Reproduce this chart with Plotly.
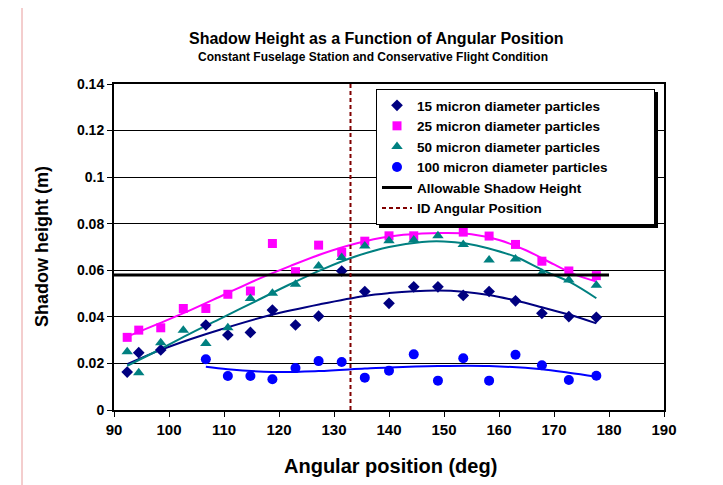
import plotly.graph_objects as go

# ---------------- data ----------------
angles = [92.4, 94.5, 98.5, 102.6, 106.7, 110.7, 114.8, 118.8, 123.0, 127.2, 131.4,
          135.6, 140.0, 144.5, 148.9, 153.5, 158.2, 163.0, 167.8, 172.7, 177.7]

p15_x = [92.4, 94.5, 98.5, 106.7, 110.7, 114.8, 118.8, 123.0, 127.2, 131.4,
         135.6, 140.0, 144.5, 148.9, 153.5, 158.2, 163.0, 167.8, 172.7, 177.7]
p15_y = [0.0163, 0.0246, 0.0258, 0.0365, 0.0322, 0.0333, 0.0429, 0.0365, 0.0403, 0.0597,
         0.0509, 0.0458, 0.0529, 0.0529, 0.0492, 0.0509, 0.0469, 0.0415, 0.0401, 0.0398]

p25_y = [0.0312, 0.0343, 0.0353, 0.0436, 0.0436, 0.0497, 0.0511, 0.0715, 0.0594, 0.0708, 0.0677,
         0.0725, 0.0748, 0.0748, 0.0804, 0.0764, 0.0747, 0.0711, 0.0639, 0.0597, 0.0577]

p50_y = [0.0250, 0.0160, 0.0289, 0.0343, 0.0286, 0.0353, 0.0479, 0.0501, 0.0540, 0.0618, 0.0655,
         0.0704, 0.0727, 0.0730, 0.0748, 0.0711, 0.0644, 0.0648, 0.0587, 0.0558, 0.0536]

p100_x = [106.7, 110.7, 114.8, 118.8, 123.0, 127.2, 131.4, 135.6, 140.0, 144.5, 148.9,
          153.5, 158.2, 163.0, 167.8, 172.7, 177.7]
p100_y = [0.0218, 0.0146, 0.0146, 0.0132, 0.0180, 0.0210, 0.0206, 0.0139, 0.0169, 0.0239, 0.0126,
          0.0222, 0.0126, 0.0237, 0.0192, 0.0129, 0.0147]

# trendlines
t15_x = [92.4, 98.5, 104.0, 109.4, 118.5, 127.6, 135.6, 140.0, 144.5, 148.9, 153.5, 158.2, 163.0, 167.8, 172.7, 177.7]
t15_y = [0.0197, 0.0258, 0.0305, 0.0346, 0.0408, 0.0455, 0.0490, 0.0502, 0.0510, 0.0513, 0.0508, 0.0494, 0.0470, 0.0441, 0.0410, 0.0372]

t25_x = [92.4, 98.0, 104.0, 110.0, 116.0, 122.0, 128.0, 134.0, 140.0, 146.0, 150.0, 155.0, 160.0, 165.0, 170.0, 174.0, 177.7]
t25_y = [0.0315, 0.0370, 0.0430, 0.0495, 0.0560, 0.0618, 0.0672, 0.0715, 0.0745, 0.0758, 0.0760, 0.0755, 0.0730, 0.0685, 0.0625, 0.0580, 0.0552]

t50_x = [92.4, 98.5, 104.0, 110.0, 116.0, 122.0, 128.0, 134.0, 140.0, 146.0, 150.0, 154.0, 158.0, 163.0, 168.0, 173.0, 177.7]
t50_y = [0.0190, 0.0262, 0.0330, 0.0400, 0.0470, 0.0540, 0.0605, 0.0660, 0.0700, 0.0722, 0.0724, 0.0715, 0.0695, 0.0658, 0.0600, 0.0548, 0.0480]

t100_x = [106.7, 110.7, 118.8, 127.2, 135.6, 140.0, 148.9, 158.2, 167.8, 172.7, 177.7]
t100_y = [0.0186, 0.0175, 0.0163, 0.0167, 0.0178, 0.0183, 0.0189, 0.0189, 0.0175, 0.0160, 0.0143]

allow_x = [90, 180]
allow_y = [0.058, 0.058]
id_x = [133, 133]
id_y = [0, 0.14]

series_names = ["15 micron diameter particles", "25 micron diameter particles",
                "50 micron diameter particles", "100 micron diameter particles",
                "Allowable Shadow Height", "ID Angular Position"]

NAVY, MAG, TEAL, BLUE, DRED = "#000080", "#FF00FF", "#008080", "#0000FF", "#800000"
FONT = "Liberation Sans, Arial, sans-serif"

fig = go.Figure()

for tx, ty, c in [(t15_x, t15_y, NAVY), (t25_x, t25_y, MAG), (t50_x, t50_y, TEAL), (t100_x, t100_y, BLUE)]:
    fig.add_trace(go.Scatter(x=tx, y=ty, mode="lines", line=dict(color=c, width=2, shape="spline"),
                             showlegend=False, hoverinfo="skip"))

fig.add_trace(go.Scatter(x=p15_x, y=p15_y, mode="markers", name=series_names[0],
                         marker=dict(symbol="diamond", size=9, color=NAVY)))
fig.add_trace(go.Scatter(x=angles, y=p25_y, mode="markers", name=series_names[1],
                         marker=dict(symbol="square", size=9, color=MAG)))
fig.add_trace(go.Scatter(x=angles, y=p50_y, mode="markers", name=series_names[2],
                         marker=dict(symbol="triangle-up", size=10, color=TEAL)))
fig.add_trace(go.Scatter(x=p100_x, y=p100_y, mode="markers", name=series_names[3],
                         marker=dict(symbol="circle", size=10, color=BLUE)))
fig.add_trace(go.Scatter(x=allow_x, y=allow_y, mode="lines", name=series_names[4],
                         line=dict(color="black", width=3)))
fig.add_trace(go.Scatter(x=id_x, y=id_y, mode="lines", name=series_names[5],
                         line=dict(color=DRED, width=2, dash="4px,3px")))

OFF = 8          # page offset of the plot div
W, H = 723 - OFF, 485 - OFF
L, T = 114 - OFF, 84 - OFF
R = W - (664 - OFF)
B = H - (410 - OFF)
PW, PH = W - L - R, H - T - B

def px_x(p):
    return (p - OFF - L) / PW

def px_y(p):
    return (H - B - (p - OFF)) / PH

fig.update_layout(
    width=W, height=H,
    margin=dict(l=L, r=R, t=T, b=B, pad=0),
    paper_bgcolor="white", plot_bgcolor="white",
    font=dict(family=FONT, color="black"),
    showlegend=True,
    legend=dict(x=px_x(376), y=px_y(89), xanchor="left", yanchor="top",
                orientation="h",
                bgcolor="white", bordercolor="black", borderwidth=1,
                font=dict(family=FONT, size=13.5, weight="bold", color="black"),
                tracegroupgap=0, itemwidth=30, entrywidth=232, entrywidthmode="pixels"),
    xaxis=dict(range=[90, 190], dtick=10, tick0=90, showgrid=False, zeroline=False,
               showline=True, linecolor="black", linewidth=2, mirror=True,
               ticks="outside", ticklen=5, tickwidth=1, tickcolor="black",
               tickfont=dict(family=FONT, size=15, weight="bold")),
    yaxis=dict(range=[0, 0.14], dtick=0.02, tick0=0, showgrid=True, gridcolor="black", gridwidth=1,
               zeroline=False, showline=True, linecolor="black", linewidth=2, mirror=True,
               ticks="outside", ticklen=5, tickwidth=1, tickcolor="black",
               tickfont=dict(family=FONT, size=14, weight="bold")),
    annotations=[
        dict(text="Shadow Height as a Function of Angular Position", x=px_x(376), y=px_y(39),
             xref="paper", yref="paper", showarrow=False, xanchor="center", yanchor="middle",
             font=dict(family=FONT, size=16, weight="bold")),
        dict(text="Constant Fuselage Station and Conservative Flight Condition", x=px_x(373), y=px_y(57),
             xref="paper", yref="paper", showarrow=False, xanchor="center", yanchor="middle",
             font=dict(family=FONT, size=12, weight="bold")),
        dict(text="Angular position (deg)", x=px_x(390), y=px_y(466),
             xref="paper", yref="paper", showarrow=False, xanchor="center", yanchor="middle",
             font=dict(family=FONT, size=20, weight="bold")),
        dict(text="Shadow height (m)", x=px_x(42), y=px_y(247), textangle=-90,
             xref="paper", yref="paper", showarrow=False, xanchor="center", yanchor="middle",
             font=dict(family=FONT, size=18, weight="bold")),
    ],
    shapes=[
        dict(type="rect", xref="paper", yref="paper", x0=px_x(22), x1=px_x(760), y0=px_y(520), y1=px_y(7),
             line=dict(color="#E89C9C", width=1), fillcolor="rgba(0,0,0,0)", layer="below"),
        dict(type="rect", xref="paper", yref="paper", x0=px_x(379), x1=px_x(658), y0=px_y(228), y1=px_y(92),
             line=dict(width=0), fillcolor="black", layer="above"),
    ],
)

fig.write_html("out.html")
